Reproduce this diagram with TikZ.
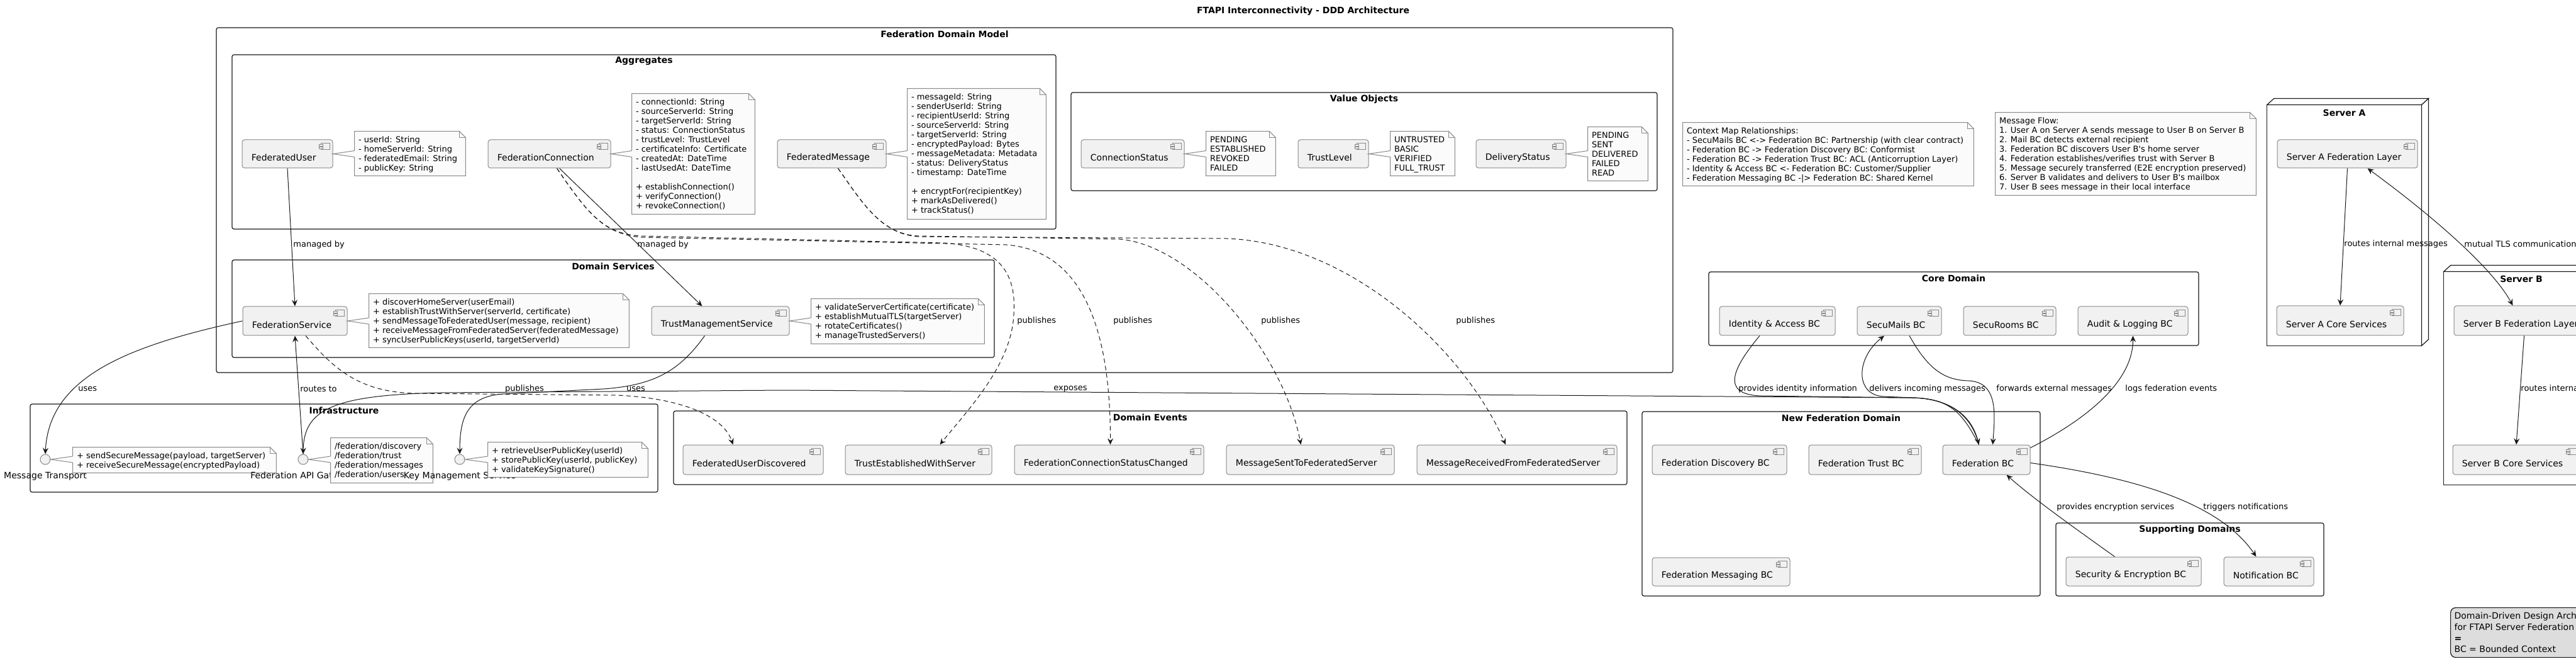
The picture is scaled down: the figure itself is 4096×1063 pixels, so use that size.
\documentclass[tikz,border=0pt]{standalone}
\usepackage{fontspec}
\setmainfont{DejaVu Sans}
\usetikzlibrary{calc,fit,arrows.meta}
\definecolor{compfill}{HTML}{F1F1F1}
\definecolor{compdraw}{HTML}{8A8A8A}
\definecolor{notefill}{HTML}{FBFBFB}
\definecolor{notedraw}{HTML}{8A8A8A}
\definecolor{framedraw}{HTML}{181818}
\definecolor{linecol}{HTML}{181818}
\definecolor{legendfill}{HTML}{DDDDDD}
\tikzset{
  ptip/.tip={Stealth[length=5pt,width=4.5pt,inset=1.8pt]},
  compbox/.style={draw=compdraw, fill=compfill, line width=0.5pt, rounded corners=2pt, inner sep=0pt},
  comptext/.style={font=\fontsize{7pt}{8.5pt}\selectfont, inner sep=0pt, text=black},
  iconbox/.style={draw=compdraw, fill=compfill, line width=0.4pt},
  framebox/.style={draw=framedraw, fill=white, line width=0.6pt, rounded corners=1.5pt, inner sep=0pt},
  frametitle/.style={font=\bfseries\fontsize{7pt}{8.5pt}\selectfont, inner sep=0pt},
  notebox/.style={draw=notedraw, fill=notefill, line width=0.5pt},
  notetext/.style={font=\fontsize{6.5pt}{7.5pt}\selectfont, align=left, inner sep=0pt},
  elabel/.style={font=\fontsize{6.5pt}{7.5pt}\selectfont, inner sep=0pt},
  conn/.style={draw=linecol, line width=0.5pt, -ptip},
  dconn/.style={conn, dash pattern=on 3.5pt off 2.5pt},
  iface/.style={circle, draw=compdraw, fill=compfill, line width=0.5pt, minimum size=8pt, inner sep=0pt},
  legendbox/.style={draw=framedraw, fill=legendfill, line width=0.6pt, rounded corners=4pt, align=left,
    inner xsep=3pt, inner ysep=3pt, font=\fontsize{7pt}{8.8pt}\selectfont, anchor=north west, minimum height=39.5pt},
}
\newcommand\compo[6]{%
  \node[compbox, fit={(#2,#3) (#4,#5)}] (#1) {};
  \draw[iconbox] ($(#1.north east)+(-19,6)$) rectangle ($(#1.north east)+(-5,16)$);
  \draw[iconbox] ($(#1.north east)+(-22,8)$) rectangle ($(#1.north east)+(-16,10.5)$);
  \draw[iconbox] ($(#1.north east)+(-22,12)$) rectangle ($(#1.north east)+(-16,14.5)$);
  \node[comptext, anchor=west] (#1-t) at ($(#1.west)+(15,6)$) {#6};
}
\newcommand\unote[6]{%
  \node[inner sep=0pt, fit={(#2,#3) (#4,#5)}] (#1) {};
  \draw[notebox] (#1.north west) -- ($(#1.north east)+(-10,0)$) -- ($(#1.north east)+(0,10)$) -- (#1.south east) -- (#1.south west) -- cycle;
  \draw[notebox, fill=none] ($(#1.north east)+(-10,0)$) -- ($(#1.north east)+(-10,10)$) -- ($(#1.north east)+(0,10)$);
  \node[notetext, anchor=north west] (#1-t) at ($(#1.north west)+(6,8)$) {#6};
}
\newcommand\notelink[2]{%
  \fill[notefill] ($(#2.west |- #1.east)+(1.5,-5)$) -- (#1.east) -- ($(#2.west |- #1.east)+(1.5,5)$) -- cycle;
  \draw[notedraw, line width=0.5pt] ($(#2.west |- #1.east)+(0,-5)$) -- (#1.east) -- ($(#2.west |- #1.east)+(0,5)$);
}
\newcommand\frm[6]{%
  \node[framebox, fit={(#2,#3) (#4,#5)}] (#1) {};
  \node[frametitle] (#1-t) at ($(#1.north)+(0,11)$) {#6};
}
\begin{document}
\begin{tikzpicture}[x=0.5pt,y=-0.5pt]
\useasboundingbox (0,0) rectangle (4096,1063);
\clip (0,0) rectangle (4096,1063);
\fill[white] (0,0) rectangle (4096,1063);

\node[font=\bfseries\fontsize{7pt}{8.5pt}\selectfont, inner sep=0pt] (title) at (2072,18) {FTAPI Interconnectivity - DDD Architecture};

% ---------- frames ----------
\frm{fdm}{344}{44}{2660}{592}{Federation Domain Model}
\frm{agg}{369}{87}{1679}{364}{Aggregates}
\frm{vo}{1703}{147}{2635}{303}{Value Objects}
\frm{dsv}{369}{413}{1581}{568}{Domain Services}
\frm{infra}{48}{642}{1046}{782}{Infrastructure}
\frm{dev}{1071}{653}{2587}{770}{Domain Events}
\frm{core}{2717}{432}{3496}{549}{Core Domain}
\frm{nfd}{2611}{654}{3244}{947}{New Federation Domain}
\frm{sup}{3269}{831}{3695}{947}{Supporting Domains}

% Server A node
\node[inner sep=0pt, fit={(3605,167) (3850,549)}] (srvA) {};
\draw[framebox, sharp corners] (srvA.north west) rectangle (srvA.south east);
\draw[framebox, sharp corners] (srvA.north west) -- ++(11,-10) -- ($(srvA.north east)+(11,-10)$) -- (srvA.north east) -- cycle;
\draw[framebox, sharp corners] (srvA.north east) -- ++(11,-10) -- ($(srvA.south east)+(11,-10)$) -- (srvA.south east) -- cycle;
\node[frametitle] (srvA-t) at ($(srvA.north)+(0,12.5)$) {Server A};
% Server B node
\node[inner sep=0pt, fit={(3886,432) (4132,770)}] (srvB) {};
\draw[framebox, sharp corners] (srvB.north west) rectangle (srvB.south east);
\draw[framebox, sharp corners] (srvB.north west) -- ++(11,-10) -- ($(srvB.north east)+(11,-10)$) -- (srvB.north east) -- cycle;
\draw[framebox, sharp corners] (srvB.north east) -- ++(11,-10) -- ($(srvB.south east)+(11,-10)$) -- (srvB.south east) -- cycle;
\node[frametitle] (srvB-t) at ($(srvB.north)+(0,12)$) {Server B};

% ---------- aggregates ----------
\compo{fu}{385}{222}{529}{267}{FederatedUser}
\unote{nfu}{564}{209}{740}{279}{- userId: String\\- homeServerId: String\\- federatedEmail: String\\- publicKey: String}
\notelink{fu}{nfu}
\compo{fc}{776}{222}{971}{267}{FederationConnection}
\unote{nfc}{1005}{149}{1200}{340}{- connectionId: String\\- sourceServerId: String\\- targetServerId: String\\- status: ConnectionStatus\\- trustLevel: TrustLevel\\- certificateInfo: Certificate\\- createdAt: DateTime\\- lastUsedAt: DateTime\\[7.5pt]+ establishConnection()\\+ verifyConnection()\\+ revokeConnection()}
\notelink{fc}{nfc}
\compo{fm}{1236}{222}{1409}{267}{FederatedMessage}
\unote{nfm}{1443}{141}{1663}{348}{- messageId: String\\- senderUserId: String\\- recipientUserId: String\\- sourceServerId: String\\- targetServerId: String\\- encryptedPayload: Bytes\\- messageMetadata: Metadata\\- status: DeliveryStatus\\- timestamp: DateTime\\[7.5pt]+ encryptFor(recipientKey)\\+ markAsDelivered()\\+ trackStatus()}
\notelink{fm}{nfm}

% ---------- value objects ----------
\compo{cs}{1719}{222}{1883}{267}{ConnectionStatus}
\unote{ncs}{1918}{209}{2028}{279}{PENDING\\ESTABLISHED\\REVOKED\\FAILED}
\notelink{cs}{ncs}
\compo{tl}{2064}{222}{2176}{267}{TrustLevel}
\unote{ntl}{2211}{209}{2313}{279}{UNTRUSTED\\BASIC\\VERIFIED\\FULL\_TRUST}
\notelink{tl}{ntl}
\compo{ds}{2347}{222}{2490}{267}{DeliveryStatus}
\unote{nds}{2525}{202}{2620}{287}{PENDING\\SENT\\DELIVERED\\FAILED\\READ}
\notelink{ds}{nds}

% ---------- domain services ----------
\compo{fs}{386}{487}{552}{533}{FederationService}
\unote{nfs}{587}{467}{1000}{552}{+ discoverHomeServer(userEmail)\\+ establishTrustWithServer(serverId, certificate)\\+ sendMessageToFederatedUser(message, recipient)\\+ receiveMessageFromFederatedServer(federatedMessage)\\+ syncUserPublicKeys(userId, targetServerId)}
\notelink{fs}{nfs}
\compo{tms}{1036}{487}{1255}{533}{TrustManagementService}
\unote{ntms}{1290}{475}{1565}{546}{+ validateServerCertificate(certificate)\\+ establishMutualTLS(targetServer)\\+ rotateCertificates()\\+ manageTrustedServers()}
\notelink{tms}{ntms}

% ---------- infrastructure ----------
\node[iface] (mt) at (72,730) {};
\node[comptext] (mt-l) at (72,757) {Message Transport};
\unote{nmt}{116}{711}{439}{751}{+ sendSecureMessage(payload, targetServer)\\+ receiveSecureMessage(encryptedPayload)}
\notelink{mt}{nmt}
\node[iface] (gw) at (482,730) {};
\node[comptext] (gw-l) at (482,757) {Federation API Gateway};
\unote{ngw}{526}{696}{688}{767}{/federation/discovery\\/federation/trust\\/federation/messages\\/federation/users}
\notelink{gw}{ngw}
\node[iface] (kms) at (731,730) {};
\node[comptext] (kms-l) at (731,757) {Key Management Service};
\unote{nkms}{776}{703}{1030}{758}{+ retrieveUserPublicKey(userId)\\+ storePublicKey(userId, publicKey)\\+ validateKeySignature()}
\notelink{kms}{nkms}

% ---------- domain events ----------
\compo{fud}{1086}{707}{1309}{754}{FederatedUserDiscovered}
\compo{tes}{1344}{707}{1577}{754}{TrustEstablishedWithServer}
\compo{fcsc}{1613}{707}{1914}{754}{FederationConnectionStatusChanged}
\compo{msfs}{1950}{707}{2217}{754}{MessageSentToFederatedServer}
\compo{mrfs}{2253}{707}{2571}{754}{MessageReceivedFromFederatedServer}

% ---------- core / new federation / supporting ----------
\compo{iam}{2734}{487}{2918}{533}{Identity \& Access BC}
\compo{smb}{2953}{487}{3087}{533}{SecuMails BC}
\compo{srb}{3122}{487}{3269}{533}{SecuRooms BC}
\compo{alb}{3304}{487}{3479}{533}{Audit \& Logging BC}
\compo{fdb}{2627}{707}{2841}{754}{Federation Discovery BC}
\compo{ftb}{2876}{707}{3055}{754}{Federation Trust BC}
\compo{fbc}{3089}{707}{3228}{754}{Federation BC}
\compo{fmb}{2627}{886}{2846}{931}{Federation Messaging BC}
\compo{seb}{3285}{885}{3500}{931}{Security \& Encryption BC}
\compo{nob}{3536}{885}{3679}{931}{Notification BC}

% ---------- servers ----------
\compo{safl}{3621}{222}{3844}{267}{Server A Federation Layer}
\compo{sacs}{3620}{486}{3822}{533}{Server A Core Services}
\compo{sbfl}{3902}{486}{4125}{533}{Server B Federation Layer}
\compo{sbcs}{3900}{707}{4102}{754}{Server B Core Services}

% ---------- free notes ----------
\unote{ncm}{2676}{195}{3138}{295}{Context Map Relationships:\\- SecuMails BC <-> Federation BC: Partnership (with clear contract)\\- Federation BC -> Federation Discovery BC: Conformist\\- Federation BC -> Federation Trust BC: ACL (Anticorruption Layer)\\- Identity \& Access BC <- Federation BC: Customer/Supplier\\- Federation Messaging BC -|> Federation BC: Shared Kernel}
\unote{nmf}{3173}{179}{3587}{310}{Message Flow:\\1. User A on Server A sends message to User B on Server B\\2. Mail BC detects external recipient\\3. Federation BC discovers User B\textquotesingle s home server\\4. Federation establishes/verifies trust with Server B\\5. Message securely transferred (E2E encryption preserved)\\6. Server B validates and delivers to User B\textquotesingle s mailbox\\7. User B sees message in their local interface}

% ---------- legend ----------
\node[legendbox] (legend) at (3896,965) {Domain-Driven Design Architecture\\for FTAPI Server Federation\\\textbf{=}\\BC = Bounded Context};

% ---------- connectors ----------
\draw[conn] (fu.south) -- (fs.north);
\draw[conn] ([xshift=8pt]fc.south) -- ([xshift=-14.5pt]tms.north);
\draw[dconn] ([xshift=6pt]fc.south) .. controls (935,340) and (960,372) .. (1020,375) -- (1500,386) .. controls (1595,392) and (1616,440) .. (1612,500) .. controls (1608,580) and (1540,650) .. ([xshift=17pt]tes.north);
\draw[dconn] ([xshift=6pt]fc.south) .. controls (935,340) and (960,372) .. (1020,377) -- (1600,389) .. controls (1720,398) and (1766,520) .. ([xshift=1pt]fcsc.north);
\draw[dconn] ([xshift=5pt]fm.south) .. controls (1370,320) and (1400,372) .. (1460,375) -- (1780,380) .. controls (1900,390) and (2040,560) .. ([xshift=-7.5pt]msfs.north);
\draw[dconn] ([xshift=5pt]fm.south) .. controls (1370,320) and (1400,372) .. (1460,376) -- (1950,379) .. controls (2150,386) and (2330,560) .. ([xshift=-9pt]mrfs.north);
\draw[dconn] ([xshift=8.5pt]fs.south) .. controls (530,585) and (570,623) .. (660,625) -- (980,628) .. controls (1080,632) and (1150,660) .. ([xshift=-16pt]fud.north);
\draw[conn] (fs.west) .. controls (200,550) and (78,600) .. (mt.north);
\draw[conn] (gw.north) -- (fs.south);
\draw[conn] ([xshift=-6pt]fbc.north) .. controls (3120,655) and (3100,633) .. (3040,632) -- (1250,620) -- (700,624) .. controls (530,628) and (483,650) .. (gw.north);
\draw[conn] ([xshift=-12.5pt]tms.south) .. controls (1080,590) and (1040,612) .. (960,618) -- (800,626) .. controls (745,630) and (731,660) .. (kms.north);
\draw[conn] ([xshift=-14pt]iam.south) .. controls (2755,585) and (2735,627) .. (2800,629) -- (3040,632) .. controls (3100,633) and (3135,660) .. ([xshift=-6pt]fbc.north);
\draw[conn] ([xshift=-6pt]fbc.north) .. controls (3135,660) and (3100,633) .. (3040,632) -- (2995,630) .. controls (2950,628) and (2950,570) .. ([xshift=-12pt]smb.south);
\draw[conn] ([xshift=8pt]smb.south) .. controls (3065,585) and (3090,604) .. (3130,605) .. controls (3178,607) and (3172,660) .. ([xshift=5pt]fbc.north);
\draw[conn] ($(fbc.north east)+(0,5)$) .. controls (3330,660) and (3392,600) .. (alb.south);
\draw[conn] ([xshift=-15pt]seb.north) .. controls (3300,840) and (3230,790) .. ([xshift=16pt]fbc.south);
\draw[conn] ($(fbc.east)+(0,5)$) .. controls (3400,760) and (3530,800) .. ([xshift=-10pt]nob.north);
\draw[conn] (safl.south) -- (sacs.north);
\draw[conn, ptip-ptip] ([xshift=16pt]safl.south) .. controls (3850,330) and (3960,420) .. ([xshift=-9pt]sbfl.north);
\draw[conn] (sbfl.south) -- (sbcs.north);

% ---------- connector labels ----------
\node[elabel, anchor=west] (l1) at (466,389) {managed by};
\node[elabel, anchor=west] (l2) at (1013,389) {managed by};
\node[elabel, anchor=west] (l3) at (1617,510) {publishes};
\node[elabel, anchor=west] (l4) at (1770,510) {publishes};
\node[elabel, anchor=west] (l5) at (2005,510) {publishes};
\node[elabel, anchor=west] (l6) at (2315,510) {publishes};
\node[elabel] (l7) at (834,618) {publishes};
\node[elabel, anchor=west] (l8) at (124,618) {uses};
\node[elabel, anchor=west] (l9) at (477,618) {routes to};
\node[elabel] (l10) at (1702,618) {exposes};
\node[elabel] (l11) at (1011,618) {uses};
\node[elabel, anchor=west] (l12) at (2764,618) {provides identity information};
\node[elabel, anchor=west] (l13) at (2972,618) {delivers incoming messages};
\node[elabel, anchor=west] (l14) at (3174,618) {forwards external messages};
\node[elabel, anchor=west] (l15) at (3379,618) {logs federation events};
\node[elabel, anchor=west] (l16) at (3270,806) {provides encryption services};
\node[elabel, anchor=west] (l17) at (3503,806) {triggers notifications};
\node[elabel, anchor=west] (l18) at (3727,388) {routes internal messages};
\node[elabel, anchor=west] (l19) at (3918,388) {mutual TLS communication};
\node[elabel, anchor=west] (l20) at (4008,618) {routes internal messages};
\end{tikzpicture}
\end{document}
